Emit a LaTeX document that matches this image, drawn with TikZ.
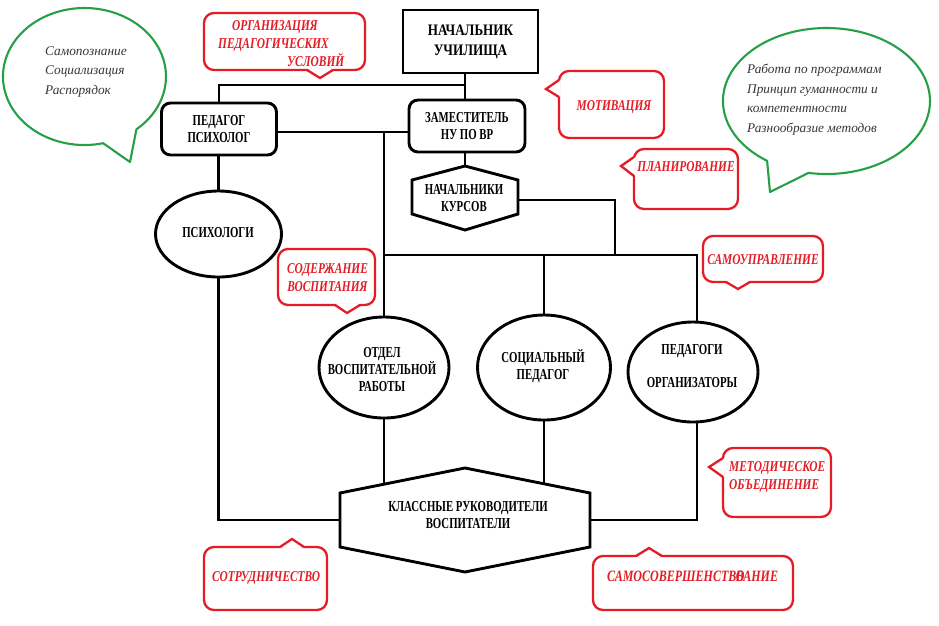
\documentclass[tikz,border=0pt]{standalone}
\usepackage{fontspec}
\setmainfont{Liberation Serif}
\newfontfamily\nfam[FakeStretch=0.71]{Liberation Serif}
\newfontfamily\tfam[FakeStretch=0.82]{Liberation Serif}
\newfontfamily\rfam[FakeStretch=0.76]{Liberation Serif}
\usetikzlibrary{calc,shapes.geometric}
\pgfdeclarelayer{bg}
\pgfsetlayers{bg,main}
\definecolor{calred}{RGB}{228,28,38}
\definecolor{bubgreen}{RGB}{38,160,70}
\definecolor{txtgray}{RGB}{55,55,55}
\newcommand\nfnt{\nfam\bfseries\fontsize{15.2}{17}\selectfont}
\newcommand\tfnt{\tfam\bfseries\fontsize{16}{20}\selectfont}
\newcommand\rfnt{\rfam\bfseries\itshape\fontsize{15}{18}\selectfont}
\newcommand\gfnt{\itshape\fontsize{13.3}{19.5}\selectfont}
\tikzset{
  ln/.style={line width=2.9pt},
  boxs/.style={draw, line width=2.9pt, fill=white, inner sep=0pt, align=center, font=\nfnt},
  ell/.style={ellipse, draw, line width=2.9pt, fill=white, inner sep=0pt},
  anc/.style={inner sep=0pt, outer sep=0pt},
  shp/.style={draw, line width=2.9pt, fill=white, line join=miter},
  txt/.style={inner sep=0pt, align=center, font=\nfnt},
  callout/.style={draw=calred, line width=2.3pt, fill=white, rounded corners=10pt},
  rtxt/.style={inner sep=0pt, text=calred, font=\rfnt},
  bubble/.style={draw=bubgreen, line width=2.1pt, fill=white, line join=round},
  gtxt/.style={inner sep=0pt, align=left, text=txtgray, font=\gfnt},
}
\newcommand\redcallout[6]{%
  \draw[callout] (#1) rectangle (#2);
  \fill[white] ($(#3)+(#6)$) -- (#4) -- ($(#5)+(#6)$) -- cycle;
  \draw[callout, sharp corners, fill=none] (#3) -- (#4) -- (#5);
}
\begin{document}
\begin{tikzpicture}[x=1pt,y=-1pt]
\begin{pgfonlayer}{bg}
\fill[white] (0,0) rectangle (939,625);
\end{pgfonlayer}
\useasboundingbox (0,0) rectangle (939,625);

% green bubbles
\draw[bubble] (103.1,143.2) arc[start angle=76.8,end angle=410.4,x radius=81.5,y radius=68.5] -- (130,162) -- cycle;
\node[gtxt, anchor=west] (g1) at (45,72) {Самопознание\\Социализация\\Распорядок};
\draw[bubble] (767.1,160.8) arc[start angle=125,end angle=460,x radius=103.5,y radius=73] -- (770,192) -- cycle;
\node[gtxt, anchor=west] (g2) at (747,99.5) {Работа по программам\\Принцип гуманности и\\компетентности\\Разнообразие методов};

% black structure
\node[boxs, font=\tfnt, minimum width=135pt, minimum height=63pt] (nach) at (470.5,41.5) {НАЧАЛЬНИК\\УЧИЛИЩА};
\node[boxs, rounded corners=9pt, minimum width=115pt, minimum height=52pt] (ped) at (219,129) {ПЕДАГОГ\\ПСИХОЛОГ};
\node[boxs, rounded corners=9pt, minimum width=116pt, minimum height=52pt] (zam) at (467,126) {ЗАМЕСТИТЕЛЬ\\НУ ПО ВР};

\node[anc, minimum width=106pt, minimum height=64pt] (kurs) at (465,198) {};
\draw[shp] (kurs.north) -- ($(kurs.north east)+(0,14)$) -- ($(kurs.south east)+(0,-16)$) -- (kurs.south) -- ($(kurs.south west)+(0,-16)$) -- ($(kurs.north west)+(0,14)$) -- cycle;
\node[txt] (kursT) at (464,198) {НАЧАЛЬНИКИ\\КУРСОВ};

\node[ell, minimum width=126pt, minimum height=86pt] (psy) at (218.5,234) {};
\node[txt] (psyT) at (218,233) {ПСИХОЛОГИ};
\node[ell, minimum width=130pt, minimum height=101pt] (otd) at (384,367.5) {};
\node[txt] (otdT) at (382,370) {ОТДЕЛ\\ВОСПИТАТЕЛЬНОЙ\\РАБОТЫ};
\node[ell, minimum width=133pt, minimum height=105pt] (soc) at (544,367.5) {};
\node[txt] (socT) at (543,366) {СОЦИАЛЬНЫЙ\\ПЕДАГОГ};
\node[ell, minimum width=130pt, minimum height=100pt] (org) at (693,372) {};
\node[txt] (orgT) at (692,366.5) {ПЕДАГОГИ\\[16pt]ОРГАНИЗАТОРЫ};

\node[anc, minimum width=250pt, minimum height=104pt] (kl) at (465,520) {};
\draw[shp] (kl.north) -- ($(kl.north east)+(0,25)$) -- ($(kl.south east)+(0,-25)$) -- (kl.south) -- ($(kl.south west)+(0,-25)$) -- ($(kl.north west)+(0,25)$) -- cycle;
\node[txt] (klT) at (468,515.5) {КЛАССНЫЕ РУКОВОДИТЕЛИ\\ВОСПИТАТЕЛИ};

\coordinate (j1) at (465,85);
\coordinate (j2) at (384,132);
\coordinate (j3) at (615,200);
\coordinate (j4) at (615,255);
\coordinate (j5) at (697,255);

\begin{pgfonlayer}{bg}
\draw[ln] (nach.south -| j1) -- (zam.north -| j1);
\draw[ln] (j1) -| (ped.north);
\draw[ln] (ped.south -| psy.north) -- (psy.north);
\draw[ln] (ped.east |- j2) -- (zam.west |- j2);
\draw[ln] (j2) -- (j2 |- otd.north);
\draw[ln] (zam.south -| kurs.north) -- (kurs.north);
\draw[ln] (kurs.east |- j3) -- (j3) -- (j4);
\draw[ln] (j2 |- j4) -- (j5) -- (j5 |- org.north);
\draw[ln] (soc.north |- j4) -- (soc.north);
\draw[ln] (j2 |- otd.south) -- (j2 |- kl.center);
\draw[ln] (soc.south) -- (soc.south |- kl.center);
\draw[ln] (j5 |- org.south) |- (kl.east);
\draw[ln] (psy.south) |- (kl.west);
\end{pgfonlayer}

% red callouts
\redcallout{204,13}{365,70}{307,70}{320,78}{333,70}{0,-1.6}
\node[rtxt, align=left, anchor=west] (c1) at (218,44) {\hspace*{14pt}ОРГАНИЗАЦИЯ\\ПЕДАГОГИЧЕСКИХ\\\hspace*{69pt}УСЛОВИЙ};
\redcallout{559,71}{664,138}{559,80}{546,89}{559,97}{1.6,0}
\node[rtxt] (c2) at (614,107) {МОТИВАЦИЯ};
\redcallout{634,149}{738,209}{634,157}{621,166}{634,176}{1.6,0}
\node[rtxt] (c3) at (686,167) {ПЛАНИРОВАНИЕ};
\redcallout{703,236}{823,282}{726,282}{738,289}{750,282}{0,-1.6}
\node[rtxt] (c4) at (763,260) {САМОУПРАВЛЕНИЕ};
\redcallout{278,249}{375,305}{335,305}{347,313}{360,305}{0,-1.6}
\node[rtxt, align=center] (c5) at (327.5,277.5) {СОДЕРЖАНИЕ\\ВОСПИТАНИЯ};
\redcallout{723,448}{831,517}{723,458}{709,467}{723,477}{1.6,0}
\node[rtxt, align=left, anchor=west] (c6) at (729,477) {МЕТОДИЧЕСКОЕ\\ОБЪЕДИНЕНИЕ};
\redcallout{204,547}{327,610}{280,547}{292,539}{304,547}{0,1.6}
\node[rtxt] (c7) at (266,578) {СОТРУДНИЧЕСТВО};
\redcallout{593,556}{793,610}{636,556}{649,548}{662,556}{0,1.6}
\node[rtxt, anchor=west, font=\rfam\bfseries\itshape\fontsize{15.8}{18}\selectfont] (c8) at (607,576) {САМОСОВЕРШЕНСТВО\kern-0.55em ВАНИЕ};
\end{tikzpicture}
\end{document}
